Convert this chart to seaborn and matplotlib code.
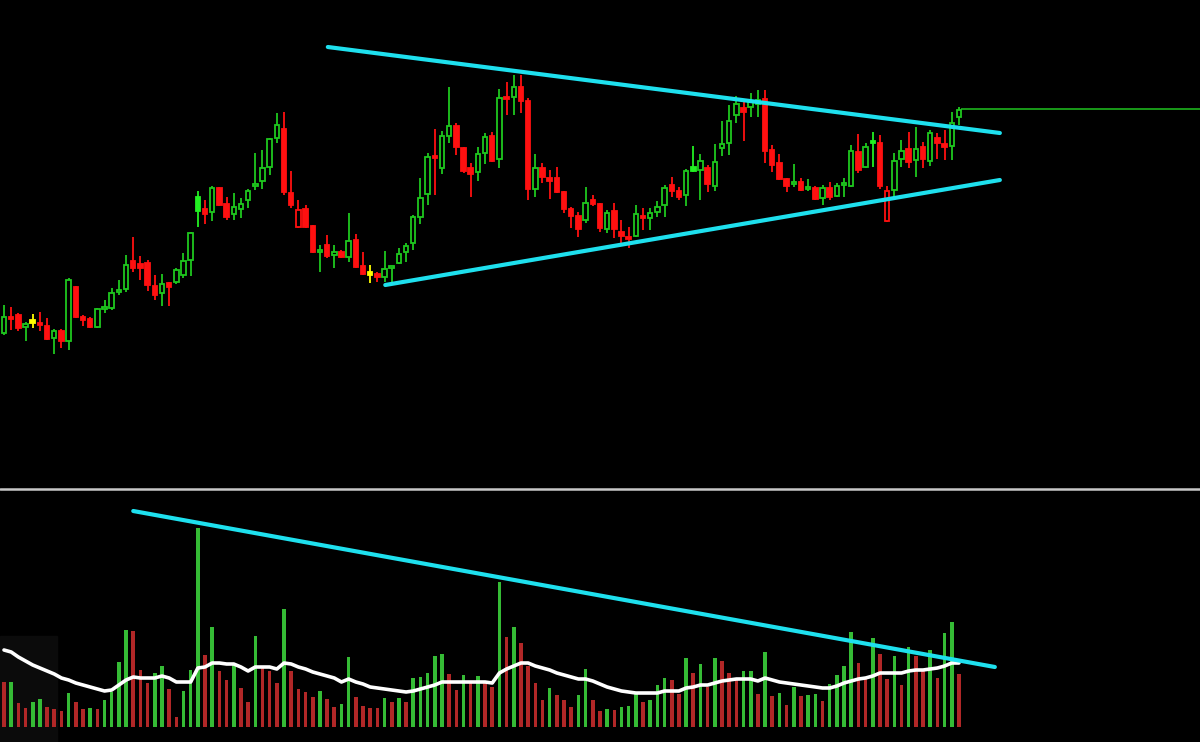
import numpy as np
import pandas as pd
import seaborn as sns
import matplotlib.pyplot as plt
from matplotlib.patches import Rectangle

# Price data (arbitrary units)
opens = [167, 183, 185, 173, 178, 177, 174, 162, 169, 159,
         213, 183, 181, 173, 191, 192, 208, 211, 239, 236,
         237, 214, 207, 217, 218, 225, 240, 289, 291, 288,
         312, 296, 286, 291, 300, 314, 319, 333, 362, 371,
         307, 290, 291, 274, 248, 255, 246, 248, 243, 260,
         234, 226, 226, 223, 232, 237, 248, 257, 283, 306,
         344, 332, 364, 374, 352, 332, 328, 347, 364, 341,
         403, 403, 413, 399, 311, 332, 322, 322, 308, 291,
         284, 280, 300, 296, 271, 289, 268, 263, 264, 284,
         282, 288, 295, 315, 309, 305, 329, 330, 332, 314,
         352, 357, 385, 392, 393, 396, 401, 350, 337, 321,
         316, 318, 311, 312, 302, 312, 304, 315, 314, 348,
         333, 357, 357, 309, 310, 341, 351, 340, 353, 339,
         362, 356, 354, 383]
highs = [195, 193, 187, 178, 186, 188, 182, 171, 171, 222,
         214, 185, 183, 192, 200, 212, 220, 245, 263, 244,
         240, 225, 226, 218, 232, 247, 268, 309, 300, 314,
         313, 303, 307, 302, 311, 347, 350, 362, 387, 388,
         329, 300, 295, 275, 255, 265, 255, 250, 287, 266,
         248, 235, 228, 249, 234, 252, 257, 285, 322, 347,
         371, 369, 413, 377, 353, 337, 353, 367, 368, 411,
         418, 425, 425, 402, 346, 337, 330, 333, 309, 293,
         288, 313, 305, 297, 290, 297, 280, 273, 295, 292,
         292, 299, 315, 323, 313, 331, 354, 346, 335, 356,
         379, 395, 404, 399, 407, 410, 410, 355, 346, 322,
         336, 322, 321, 314, 315, 318, 317, 322, 355, 366,
         357, 368, 365, 314, 347, 360, 368, 373, 358, 370,
         367, 370, 388, 393]
lows = [165, 170, 169, 159, 172, 169, 160, 146, 152, 150,
        182, 174, 172, 172, 187, 190, 205, 208, 228, 220,
        209, 200, 194, 194, 216, 222, 224, 273, 276, 279,
        294, 280, 280, 282, 292, 310, 311, 325, 357, 305,
        292, 272, 272, 247, 228, 242, 232, 242, 238, 232,
        225, 217, 218, 218, 218, 236, 238, 250, 276, 295,
        305, 326, 357, 345, 327, 303, 319, 336, 338, 332,
        385, 385, 387, 300, 303, 317, 301, 307, 287, 272,
        263, 277, 294, 268, 267, 262, 254, 252, 263, 270,
        270, 283, 283, 303, 300, 294, 328, 300, 308, 309,
        344, 345, 377, 359, 383, 383, 337, 328, 320, 308,
        313, 309, 309, 300, 295, 300, 303, 303, 313, 327,
        332, 333, 311, 278, 302, 333, 332, 323, 332, 334,
        341, 340, 340, 375]
closes = [183, 181, 172, 176, 178, 175, 161, 169, 159, 220,
          183, 180, 173, 191, 193, 207, 210, 235, 232, 232,
          215, 205, 216, 213, 230, 239, 267, 303, 286, 312,
          295, 283, 293, 296, 309, 316, 332, 361, 375, 308,
          295, 273, 273, 248, 250, 244, 247, 243, 259, 233,
          226, 226, 223, 231, 234, 246, 254, 283, 302, 343,
          342, 364, 374, 353, 329, 326, 346, 363, 339, 402,
          401, 413, 399, 311, 332, 323, 319, 308, 291, 284,
          271, 297, 296, 272, 287, 271, 264, 261, 286, 282,
          287, 293, 312, 309, 303, 329, 333, 339, 316, 338,
          356, 379, 396, 388, 398, 400, 349, 335, 321, 314,
          318, 310, 313, 301, 312, 303, 314, 317, 349, 330,
          353, 359, 314, 279, 339, 349, 338, 351, 341, 367,
          357, 353, 377, 390]

# Volume data
volume = [45, 45, 24, 19, 25, 28, 20, 18, 16, 34,
          25, 18, 19, 18, 27, 35, 65, 97, 96, 57,
          44, 54, 61, 38, 10, 36, 57, 199, 72, 100,
          56, 47, 64, 39, 25, 91, 59, 56, 44, 118,
          56, 38, 35, 30, 36, 28, 20, 23, 70, 30,
          21, 19, 19, 29, 25, 29, 25, 49, 50, 54,
          71, 73, 53, 37, 52, 44, 51, 44, 40, 145,
          90, 100, 84, 61, 44, 27, 39, 32, 27, 20,
          32, 58, 27, 16, 18, 17, 20, 21, 34, 25,
          27, 42, 49, 47, 33, 69, 54, 63, 40, 69,
          66, 54, 49, 56, 56, 33, 75, 31, 34, 22,
          40, 31, 32, 33, 26, 43, 52, 61, 95, 64,
          49, 89, 73, 48, 71, 42, 80, 71, 56, 77,
          49, 94, 105, 53]
vol_dir = list("rgrrggrrrg" "rrgrggggrr" "rggrrgggrg" "rrgrrgrrrg"
               "rrrrgrrggr" "rrrgrgrggg" "ggrrgrgrrg" "rgrrrrgrrr"
               "ggrrgrgggr" "gggrrgrgrg" "rrrggrgrgr" "grggrggggr"
               "rgrrgrgrrg" "rggr")
vol_ma = [77, 75, 70, 66, 62, 59, 56, 53, 49, 47,
          44, 42, 40, 38, 36, 37, 42, 47, 50, 49,
          49, 49, 51, 49, 45, 45, 45, 59, 60, 64,
          64, 63, 63, 60, 56, 60, 60, 60, 58, 64,
          63, 60, 58, 55, 53, 51, 49, 45, 48, 45,
          43, 40, 39, 38, 37, 36, 35, 36, 38, 40,
          42, 45, 45, 45, 45, 45, 45, 45, 44, 54,
          58, 61, 64, 64, 61, 59, 57, 54, 52, 50,
          48, 48, 46, 43, 40, 38, 36, 35, 34, 34,
          34, 34, 36, 36, 36, 39, 40, 42, 42, 44,
          46, 47, 48, 48, 48, 46, 49, 47, 45, 44,
          43, 42, 41, 40, 39, 39, 41, 44, 46, 48,
          49, 51, 54, 54, 54, 54, 56, 57, 57, 58,
          59, 61, 64, 64]

# trend lines drawn on the chart (bar index, value)
upper_line = ([45.1, 138.7], [453, 367])
lower_line = ([53.1, 138.7], [215, 320])
vol_line = ([18.0, 138.0], [216, 60])
last_close_level = 391

# special candle renderings
filled_up = [27, 96, 121]
hollow_down = [41, 123]

n = len(opens)
idx = np.arange(n)
o, h, l, c = map(np.array, (opens, highs, lows, closes))

sns.set_theme(style="dark", rc={"axes.facecolor": "black", "figure.facecolor": "black"})

fig = plt.figure(figsize=(12, 7.42), dpi=100)
ax = fig.add_axes([0, 1 - 489 / 742, 1, 489 / 742])
axv = fig.add_axes([0, 0, 1, 252 / 742])

green_edge = "#1ec81e"
red_body = "#ff1010"
body_w = 0.62

for i in range(n):
    if o[i] == c[i]:
        col = "#ffff00"
    elif c[i] > o[i]:
        col = "#22f022" if i in filled_up else green_edge
    else:
        col = red_body
    ax.vlines(i, l[i], h[i], color=col, lw=1.3, zorder=2)
    lo, hi = min(o[i], c[i]), max(o[i], c[i])
    if hi - lo < 1.5:
        lo, hi = lo - 1, lo + 2
    hollow = (c[i] > o[i] and i not in filled_up) or i in hollow_down
    face = "black" if hollow else col
    ax.bar(i, hi - lo, bottom=lo, width=body_w, color=face, edgecolor=col,
           linewidth=1.3, zorder=3)

ax.plot(*upper_line, color="#1ee0ee", lw=3, solid_capstyle="round", zorder=4)
ax.plot(*lower_line, color="#1ee0ee", lw=3, solid_capstyle="round", zorder=4)
ax.hlines(last_close_level, n - 1 + 0.3, 170, color="#1eb41e", lw=1.2)

xlim = (-4 / 7.18, 1196 / 7.18)
ax.set_xlim(*xlim)
ax.set_ylim(11, 500)
ax.axis("off")

# volume panel
df = pd.DataFrame({"idx": idx, "vol": volume, "dir": vol_dir})
axv.add_patch(Rectangle((0, 0), 57 / 1200, 106 / 252, transform=axv.transAxes,
                        color="#0b0b0b", zorder=0))
sns.barplot(data=df, x="idx", y="vol", hue="dir", native_scale=True,
            palette={"g": "#1ed21e", "r": "#c81010"}, dodge=False,
            width=0.5, legend=False, linewidth=0, ax=axv, zorder=2)
sns.lineplot(x=idx, y=vol_ma, color="white", lw=2.6, ax=axv, zorder=3)
axv.plot(*vol_line, color="#1ee0ee", lw=3, solid_capstyle="round", zorder=4)
axv.set_xlim(*xlim)
axv.set_ylim(-15, 237)
axv.axis("off")

fig.add_artist(plt.Line2D([0, 1], [1 - 489 / 742] * 2, color="#c8c8c8", lw=1.8))

fig.savefig("out.png", dpi=100, facecolor="black")
